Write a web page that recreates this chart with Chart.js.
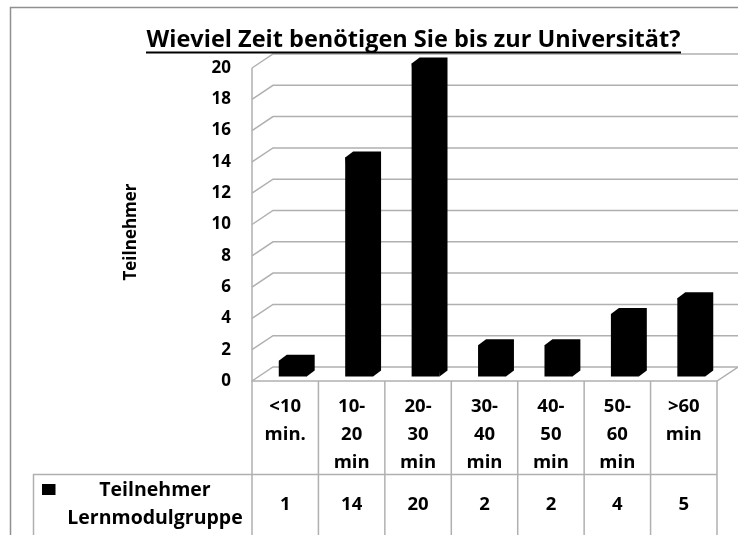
<!DOCTYPE html>
<html><head><meta charset="utf-8">
<style>html,body{margin:0;padding:0;background:#fff}canvas{display:block}</style>
<script src="https://cdn.jsdelivr.net/npm/chart.js@4"></script></head>
<body><canvas id="c" width="738" height="535"></canvas>
<script>
const categories=[["<10","min."],["10-","20","min"],["20-","30","min"],["30-","40","min"],["40-","50","min"],["50-","60","min"],[">60","min"]];
const values=[1,14,20,2,2,4,5];
const seriesName=["Teilnehmer","Lernmodulgruppe"];
const titleText="Wieviel Zeit benötigen Sie bis zur Universität?";
const yTitle="Teilnehmer";
const FONT='"Open Sans"';
const GRID='#b0b0b0';
const depth={dx:21,dy:-14}, barDepth={dx:8,dy:-6}, barShift={x:7.5,y:-4.5};
const deco={id:'deco',
 beforeDatasetsDraw(ch){
  const {ctx,chartArea:a,scales:{x,y}}=ch;
  ctx.save();ctx.strokeStyle=GRID;ctx.lineWidth=1.5;
  ctx.save();ctx.strokeStyle='#909090';
  ctx.beginPath();ctx.moveTo(10.5,535);ctx.lineTo(10.5,7.5);ctx.lineTo(738,7.5);ctx.stroke();ctx.restore();
  y.ticks.forEach(t=>{const p=y.getPixelForValue(t.value);
   ctx.beginPath();ctx.moveTo(a.left,p);ctx.lineTo(a.left+depth.dx,p+depth.dy);ctx.lineTo(a.right+depth.dx,p+depth.dy);ctx.stroke();});
  ctx.beginPath();ctx.moveTo(a.left,a.top);ctx.lineTo(a.left,a.bottom);ctx.lineTo(a.right,a.bottom);ctx.lineTo(a.right+depth.dx,a.bottom+depth.dy);ctx.stroke();
  const bw=(a.right-a.left)/values.length;
  ctx.beginPath();
  for(let i=0;i<=values.length;i++){const X=a.left+i*bw;ctx.moveTo(X,a.bottom);ctx.lineTo(X,535);}
  ctx.moveTo(33.5,535);ctx.lineTo(33.5,474.5);ctx.lineTo(a.right,474.5);
  ctx.stroke();ctx.restore();
  ctx.save();ctx.translate(barShift.x,barShift.y);ctx.fillStyle='#000';
  ch.getDatasetMeta(0).data.forEach(b=>{
   const l=b.x-b.width/2,r=b.x+b.width/2;
   ctx.beginPath();ctx.moveTo(l,b.y);ctx.lineTo(l+barDepth.dx,b.y+barDepth.dy);ctx.lineTo(r+barDepth.dx,b.y+barDepth.dy);
   ctx.lineTo(r+barDepth.dx,b.base+barDepth.dy);ctx.lineTo(r,b.base);ctx.closePath();ctx.fill();});
 },
 afterDatasetsDraw(ch){
  const {ctx,chartArea:a}=ch;
  ctx.restore();
  ctx.save();ctx.fillStyle='#000';ctx.textAlign='center';ctx.textBaseline='middle';
  ctx.font='700 18.5px '+FONT;
  const bw=(a.right-a.left)/values.length;
  values.forEach((v,i)=>ctx.fillText(String(v),a.left+(i+.5)*bw,505));
  ctx.font='700 19.5px '+FONT;
  ctx.fillText(seriesName[0],155,490);ctx.fillText(seriesName[1],155,518);
  ctx.fillRect(42,484,13.5,11);
  ctx.fillRect(146,51.5,535,2);
  ctx.save();ctx.translate(131,232);ctx.rotate(-Math.PI/2);ctx.font='700 17px '+FONT;ctx.fillText(yTitle,0,0);ctx.restore();
  ctx.restore();
 }};
new Chart(document.getElementById('c'),{type:'bar',
 data:{labels:categories,datasets:[{data:values,backgroundColor:'#000',borderWidth:0,categoryPercentage:1,barPercentage:.42,clip:false}]},
 plugins:[deco],
 options:{responsive:false,animation:false,
  layout:{autoPadding:false,padding:{left:110,right:21,top:0,bottom:0}},
  plugins:{legend:{display:false},tooltip:{enabled:false},
   title:{display:true,text:titleText,color:'#000',font:{family:FONT,size:23.5,weight:'700'},padding:{top:26,bottom:13.8}}},
  scales:{
   x:{grid:{display:false},border:{display:false},
      ticks:{color:'#000',maxRotation:0,autoSkip:false,padding:3,font:{family:FONT,size:18.5,weight:'700',lineHeight:1.54}},
      afterFit(s){s.height=154}},
   y:{min:0,max:20,grid:{display:false},border:{display:false},
      ticks:{stepSize:2,color:'#000',padding:13,font:{family:FONT,size:17,weight:'700'}},
      afterFit(s){s.width=142}}
  }}});
</script></body></html>
